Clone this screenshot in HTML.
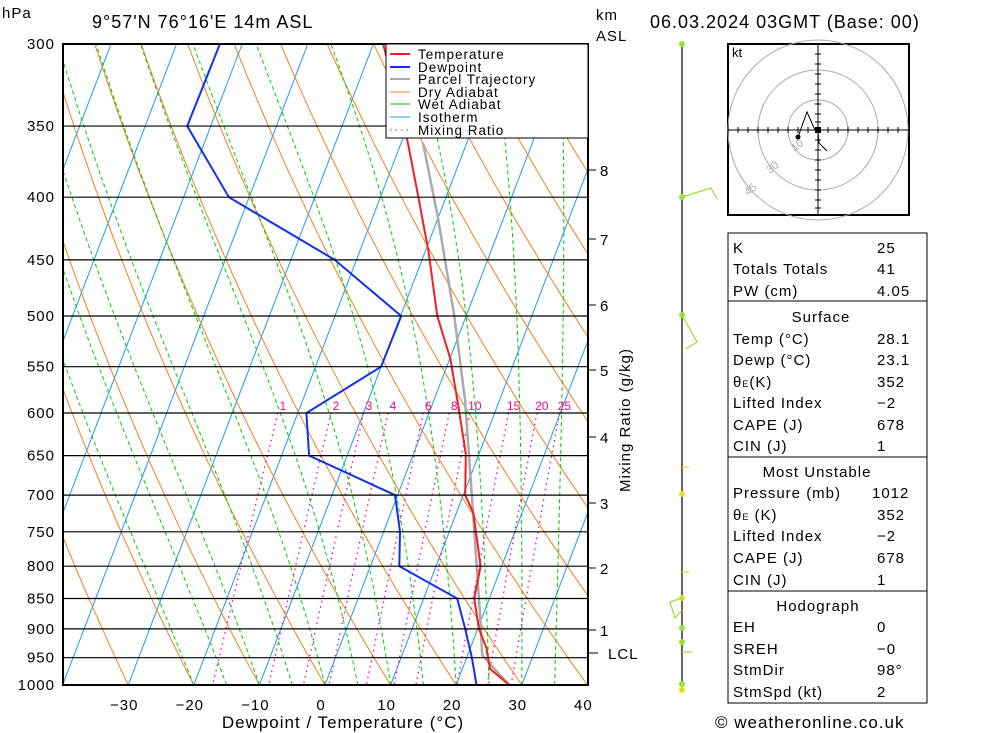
<!DOCTYPE html>
<html><head><meta charset="utf-8">
<style>
body{margin:0;background:#fff;}
svg{display:block;font-family:"Liberation Sans","DejaVu Sans",sans-serif;}
.t{font-size:15px;fill:#000;letter-spacing:1px;}
</style></head>
<body>
<svg id="c" width="1000" height="733" viewBox="0 0 1000 733" xmlns="http://www.w3.org/2000/svg">
<defs><clipPath id="pc"><rect x="63" y="44" width="525" height="641"/></clipPath></defs>
<g id="bg" clip-path="url(#pc)"></g>
<g id="series" clip-path="url(#pc)"></g>
<g id="axes"></g>
</svg>
<script>
// ---- data ----
const tempP = [300,361,400,443,500,542,590,648,700,724,800,850,900,932,970,1000];
const tempT = [-28.5,-19.0,-14.2,-9.5,-4.4,0.1,3.9,8.0,10.3,12.6,16.8,17.7,20.2,22.4,24.2,28.1];
const dewP = [300,350,400,450,500,550,600,650,700,750,800,850,900,950,980,1000];
const dewT = [-53.4,-53.6,-43.1,-23.3,-9.9,-10.0,-18.7,-15.8,-0.4,2.5,4.4,15.1,18.1,20.8,22.2,23.1];
const parP = [361,415,500,585,700,890,945,962,1000];
const parT = [-16.7,-10.1,-1.8,4.7,11.3,20.1,22.2,24.0,28.1];
const pressureTicks = [300,350,400,450,500,550,600,650,700,750,800,850,900,950,1000];
const tempTicks = [-30,-20,-10,0,10,20,30,40];
const mixRatios = [1,2,3,4,6,8,10,15,20,25];
const kmLabels = ["8","7","6","5","4","3","2","1"];
const kmY = [170,239,305,370,437,503,568,630];

const NS="http://www.w3.org/2000/svg";
const L=63,R=588,T=44,B=685;
function yP(p){return T+(B-T)*Math.log(p/300)/Math.log(1000/300);}
function xT(t,p){return 325+6.56*t+0.3825*(B-yP(p));}
function mk(tag,attrs,parent){const e=document.createElementNS(NS,tag);for(const k in attrs)e.setAttribute(k,attrs[k]);parent.appendChild(e);return e;}
const bg=document.getElementById('bg'),ser=document.getElementById('series'),ax=document.getElementById('axes');
function poly(pts,stroke,w,dash,parent,name){const e=mk('polyline',{points:pts.map(q=>q[0].toFixed(1)+','+q[1].toFixed(1)).join(' '),fill:'none',stroke:stroke,'stroke-width':w},parent);if(dash)e.setAttribute('stroke-dasharray',dash);


return e;}
const levels=[];for(let p=300;p<=1000;p+=10)levels.push(p);
for(let t=-110;t<=40;t+=10){poly([[xT(t,1000),yP(1000)],[xT(t,300),yP(300)]],'#1a9cf0',1,null,bg,'isotherm');}
for(let t0=-60;t0<=130;t0+=10){const th=t0+273.15;poly(levels.map(p=>[xT(th*Math.pow(p/1000,0.286)-273.15,p),yP(p)]),'#f08020',1,null,bg,'dry-adiabat');}
function es(t){return 6.112*Math.exp(17.67*t/(t+243.5));}
for(let tw=-20;tw<=40;tw+=5){let t=tw+273.15,p=1000;const pts=[[xT(tw,1000),yP(1000)]];
 while(p>300){const dp=-2;const e=es(t-273.15);const rs=0.622*e/(p-e);
  const dTdp=(287*t+2.5e6*rs)/(1004+2.5e6*2.5e6*rs*0.622/(287*t*t))/p;t+=dTdp*dp;p+=dp;
  if(p%10===0)pts.push([xT(t-273.15,p),yP(p)]);}
 poly(pts,'#00cc00',1,'4,3',bg,'wet-adiabat');}
mixRatios.forEach(w=>{const pts=[];for(let p=600;p<=1000;p+=10){const e=w*p/(622+w);const l=Math.log(e/6.112);const td=243.5*l/(17.67-l);pts.push([xT(td,p),yP(p)]);}
 poly(pts,'#ff0090',1.3,'1.5,4',bg,'mixing-ratio-line');
 const e=w*600/(622+w),l=Math.log(e/6.112),td=243.5*l/(17.67-l);
 const tx=mk('text',{x:xT(td,600)+5,y:yP(600)-3,'font-size':12,fill:'#ff0090','text-anchor':'middle'},bg);tx.textContent=w;
 
 });
poly(parP.map((p,i)=>[xT(parT[i],p),yP(p)]),'#aaaaaa',2.5,null,ser,'parcel-trajectory');
poly(dewP.map((p,i)=>[xT(dewT[i],p),yP(p)]),'#1030f0',2,null,ser,'dewpoint-line');
poly(tempP.map((p,i)=>[xT(tempT[i],p),yP(p)]),'#f02020',2,null,ser,'temperature-line');
pressureTicks.forEach(p=>{const y=yP(p);mk('line',{x1:L,x2:R,y1:y,y2:y,stroke:'#000','stroke-width':1.2},ax);
 const tx=mk('text',{x:55,y:y+5,'text-anchor':'end',class:'t'},ax);tx.textContent=p;
 
 });
tempTicks.forEach(t=>{const tx=mk('text',{x:325+6.56*t-4,y:710,'text-anchor':'middle',class:'t'},ax);tx.textContent=t<0?'\u2212'+(-t):t;
 
 });
mk('rect',{x:L,y:T,width:R-L,height:B-T,fill:'none',stroke:'#000','stroke-width':2},ax);
kmLabels.forEach((k,i)=>{mk('line',{x1:588,x2:596,y1:kmY[i],y2:kmY[i],stroke:'#000'},ax);const tx=mk('text',{x:600,y:kmY[i]+6,class:'t'},ax);tx.textContent=k;
 
 });
</script>
<svg style="position:absolute;left:0;top:0" width="1000" height="733">
<g font-family="Liberation Sans, DejaVu Sans, sans-serif" font-size="15" letter-spacing="1">
<text x="2" y="18">hPa</text>
<text x="92" y="28" font-size="18">9°57'N  76°16'E  14m  ASL</text>
<text x="596" y="20">km</text>
<text x="596" y="41">ASL</text>
<text x="650" y="28" font-size="18">06.03.2024  03GMT  (Base: 00)</text>
<line x1="588" x2="598" y1="653" y2="653" stroke="#000"/>
<text x="608" y="659">LCL</text>
<text transform="translate(630,420) rotate(-90)" text-anchor="middle">Mixing Ratio (g/kg)</text>
<text x="343" y="728" text-anchor="middle" font-size="17">Dewpoint / Temperature (°C)</text>
<text x="715" y="728" font-size="17">© weatheronline.co.uk</text>
</g>
<g font-family="Liberation Sans, DejaVu Sans, sans-serif" font-size="13.5" letter-spacing="1">
<rect x="386" y="44" width="202" height="94" fill="#fff" stroke="#000"/>
<line x1="390" x2="410" y1="54" y2="54" stroke="#f02020" stroke-width="2"/><text x="418" y="59">Temperature</text>
<line x1="390" x2="410" y1="67" y2="67" stroke="#1030f0" stroke-width="2"/><text x="418" y="72">Dewpoint</text>
<line x1="390" x2="410" y1="79" y2="79" stroke="#aaa" stroke-width="2"/><text x="418" y="84">Parcel Trajectory</text>
<line x1="390" x2="410" y1="92" y2="92" stroke="#f08020"/><text x="418" y="97">Dry Adiabat</text>
<line x1="390" x2="410" y1="104" y2="104" stroke="#00cc00"/><text x="418" y="109">Wet Adiabat</text>
<line x1="390" x2="410" y1="117" y2="117" stroke="#1a9cf0"/><text x="418" y="122">Isotherm</text>
<line x1="390" x2="410" y1="130" y2="130" stroke="#ff0090" stroke-dasharray="1.5,4"/><text x="418" y="135">Mixing Ratio</text>
</g>
<g stroke-width="1.2">
<line x1="682" x2="682" y1="44" y2="690" stroke="#000"/>
<circle cx="682" cy="44" r="3" fill="#99e033"/>
<circle cx="682" cy="197" r="3" fill="#99e033"/><polyline points="682,197 711,188 717,199" fill="none" stroke="#99e033"/>
<circle cx="682" cy="315" r="3" fill="#99e033"/><polyline points="682,315 697,342 686,349" fill="none" stroke="#99e033"/>
<line x1="682" x2="689" y1="467" y2="467" stroke="#e0e020"/>
<circle cx="682" cy="494" r="3" fill="#e0e020"/>
<line x1="682" x2="689" y1="572" y2="572" stroke="#e0e020"/>
<circle cx="682" cy="598" r="3" fill="#e0e020"/>
<polyline points="682,598 670,602 675,618 682,610" fill="none" stroke="#99e033"/>
<circle cx="682" cy="628" r="3" fill="#99e033"/><circle cx="682" cy="642" r="3" fill="#99e033"/>
<polyline points="682,652 692,652" fill="none" stroke="#99e033"/>
<circle cx="682" cy="684" r="3" fill="#99e033"/><circle cx="682" cy="690" r="3" fill="#e0e020"/>
</g>
<g>
<rect x="728" y="44" width="181" height="171" fill="#fff" stroke="#000" stroke-width="2"/>
<g fill="none" stroke="#aaa"><circle cx="818" cy="130" r="30"/><circle cx="818" cy="130" r="60"/><circle cx="818" cy="130" r="90"/></g>
<line x1="728" x2="909" y1="130" y2="130" stroke="#000"/><line x1="818" x2="818" y1="44" y2="215" stroke="#000"/>
<g stroke="#000">
<line x1="738" x2="738" y1="127" y2="133"/><line x1="748" x2="748" y1="127" y2="133"/><line x1="758" x2="758" y1="127" y2="133"/><line x1="768" x2="768" y1="127" y2="133"/><line x1="778" x2="778" y1="127" y2="133"/><line x1="788" x2="788" y1="127" y2="133"/><line x1="798" x2="798" y1="127" y2="133"/><line x1="808" x2="808" y1="127" y2="133"/>
<line x1="828" x2="828" y1="127" y2="133"/><line x1="838" x2="838" y1="127" y2="133"/><line x1="848" x2="848" y1="127" y2="133"/><line x1="858" x2="858" y1="127" y2="133"/><line x1="868" x2="868" y1="127" y2="133"/><line x1="878" x2="878" y1="127" y2="133"/><line x1="888" x2="888" y1="127" y2="133"/><line x1="898" x2="898" y1="127" y2="133"/>
<line x1="815" x2="821" y1="54" y2="54"/><line x1="815" x2="821" y1="64" y2="64"/><line x1="815" x2="821" y1="74" y2="74"/><line x1="815" x2="821" y1="84" y2="84"/><line x1="815" x2="821" y1="94" y2="94"/><line x1="815" x2="821" y1="104" y2="104"/><line x1="815" x2="821" y1="114" y2="114"/><line x1="815" x2="821" y1="122" y2="122"/>
<line x1="815" x2="821" y1="140" y2="140"/><line x1="815" x2="821" y1="150" y2="150"/><line x1="815" x2="821" y1="160" y2="160"/><line x1="815" x2="821" y1="170" y2="170"/><line x1="815" x2="821" y1="180" y2="180"/><line x1="815" x2="821" y1="190" y2="190"/><line x1="815" x2="821" y1="200" y2="200"/><line x1="815" x2="821" y1="208" y2="208"/>
</g>
<text x="732" y="57" font-family="Liberation Sans, sans-serif" font-size="13">kt</text>
<text x="795" y="152" font-size="11" fill="#aaa" transform="rotate(-40 795 152)" font-family="Liberation Sans, sans-serif">10</text>
<text x="770" y="174" font-size="11" fill="#aaa" transform="rotate(-40 770 174)" font-family="Liberation Sans, sans-serif">30</text>
<text x="748" y="196" font-size="11" fill="#aaa" transform="rotate(-40 748 196)" font-family="Liberation Sans, sans-serif">45</text>
<polyline points="798,137 807,112 815,130 818,132 819,143 827,151" fill="none" stroke="#000"/>
<rect x="815" y="127" width="6" height="6"/><circle cx="798" cy="137" r="2.5"/>
</g>
<g font-family="Liberation Sans, DejaVu Sans, sans-serif" font-size="15" letter-spacing="1">
<rect x="728" y="233" width="199" height="68" fill="none" stroke="#000"/>
<rect x="728" y="301" width="199" height="156" fill="none" stroke="#000"/>
<rect x="728" y="457" width="199" height="134" fill="none" stroke="#000"/>
<rect x="728" y="591" width="199" height="112" fill="none" stroke="#000"/>
<text x="733" y="253">K</text><text x="877" y="253">25</text>
<text x="733" y="274">Totals Totals</text><text x="877" y="274">41</text>
<text x="733" y="296">PW (cm)</text><text x="877" y="296">4.05</text>
<text x="821" y="322" text-anchor="middle">Surface</text>
<text x="733" y="344">Temp (°C)</text><text x="877" y="344">28.1</text>
<text x="733" y="365">Dewp (°C)</text><text x="877" y="365">23.1</text>
<text x="733" y="387">θ<tspan font-size="9">E</tspan>(K)</text><text x="877" y="387">352</text>
<text x="733" y="408">Lifted Index</text><text x="877" y="408">−2</text>
<text x="733" y="430">CAPE (J)</text><text x="877" y="430">678</text>
<text x="733" y="451">CIN (J)</text><text x="877" y="451">1</text>
<text x="817" y="477" text-anchor="middle">Most Unstable</text>
<text x="733" y="498">Pressure (mb)</text><text x="872" y="498">1012</text>
<text x="733" y="520">θ<tspan font-size="9">E</tspan> (K)</text><text x="877" y="520">352</text>
<text x="733" y="541">Lifted Index</text><text x="877" y="541">−2</text>
<text x="733" y="563">CAPE (J)</text><text x="877" y="563">678</text>
<text x="733" y="585">CIN (J)</text><text x="877" y="585">1</text>
<text x="818" y="611" text-anchor="middle">Hodograph</text>
<text x="733" y="632">EH</text><text x="877" y="632">0</text>
<text x="733" y="654">SREH</text><text x="877" y="654">−0</text>
<text x="733" y="675">StmDir</text><text x="877" y="675">98°</text>
<text x="733" y="697">StmSpd (kt)</text><text x="877" y="697">2</text>
</g>
</svg>
</body></html>
